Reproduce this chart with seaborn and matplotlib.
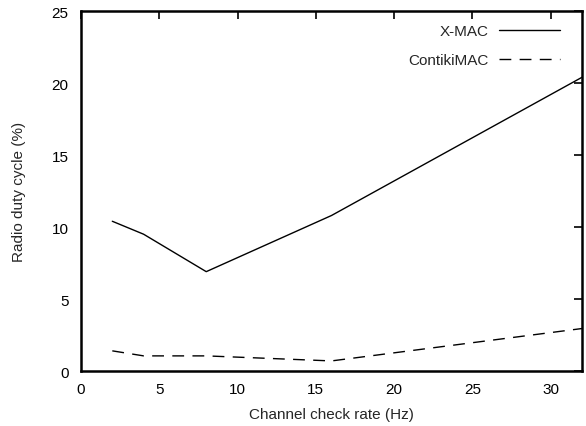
import matplotlib
matplotlib.use("Agg")
import matplotlib.pyplot as plt
import seaborn as sns
import pandas as pd

# data
rate_hz = [2, 4, 8, 16, 32]
xmac_duty = [10.4, 9.5, 6.9, 10.8, 20.4]
contikimac_duty = [1.4, 1.05, 1.05, 0.7, 2.95]

sns.set_style("white")
plt.rcParams['font.family'] = ['Liberation Sans', 'DejaVu Sans']

df = pd.DataFrame({
    'rate': rate_hz * 2,
    'duty': xmac_duty + contikimac_duty,
    'mac': ['X-MAC'] * len(rate_hz) + ['ContikiMAC'] * len(rate_hz),
})

fig = plt.figure(figsize=(5.86, 4.27), dpi=100)
ax = fig.add_axes([0.1382, 0.1288, 0.855, 0.843])

sns.lineplot(data=df, x='rate', y='duty', style='mac',
             dashes={'X-MAC': '', 'ContikiMAC': (8.5, 6)},
             color='black', linewidth=1.0, ax=ax)

ax.set_xlim(0, 32)
ax.set_ylim(0, 25)
ax.set_xticks([0, 5, 10, 15, 20, 25, 30])
ax.set_yticks([0, 5, 10, 15, 20, 25])
ax.tick_params(direction='in', length=6, width=1.2, top=True, right=True,
               labelsize=11, colors='black')
ax.tick_params(axis='x', pad=8)
ax.tick_params(axis='y', pad=9)
for s in ax.spines.values():
    s.set_linewidth(1.8)
    s.set_color('black')

ax.set_xlabel('Channel check rate (Hz)', fontsize=11, labelpad=8)
ax.set_ylabel('Radio duty cycle (%)', fontsize=11, labelpad=18)

leg = ax.legend(loc='upper right', bbox_to_anchor=(0.982, 1.0),
                frameon=False, markerfirst=False,
                fontsize=11, handlelength=4.0, handletextpad=0.7,
                labelspacing=1.0, borderaxespad=0.45)

fig.savefig('out.png', dpi=100)
